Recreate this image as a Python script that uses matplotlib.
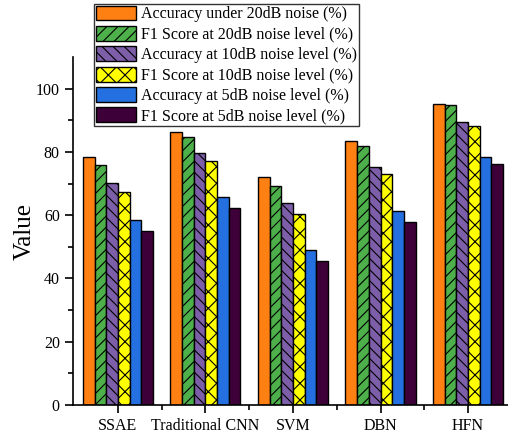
import matplotlib
matplotlib.use("Agg")
import matplotlib.pyplot as plt
import numpy as np

categories = ["SSAE", "Traditional CNN", "SVM", "DBN", "HFN"]
series_labels = [
    "Accuracy under 20dB noise (%)",
    "F1 Score at 20dB noise level (%)",
    "Accuracy at 10dB noise level (%)",
    "F1 Score at 10dB noise level (%)",
    "Accuracy at 5dB noise level (%)",
    "F1 Score at 5dB noise level (%)",
]
acc_20db = [78.5, 86.3, 72.0, 83.6, 95.2]
f1_20db = [75.9, 84.7, 69.3, 81.9, 94.7]
acc_10db = [70.1, 79.5, 63.8, 75.1, 89.6]
f1_10db = [67.2, 77.0, 60.5, 73.1, 88.3]
acc_5db = [58.5, 65.7, 49.0, 61.3, 78.3]
f1_5db = [55.1, 62.2, 45.6, 58.0, 76.1]
series_values = [acc_20db, f1_20db, acc_10db, f1_10db, acc_5db, f1_5db]

colors = ["#FF8012", "#4DB04A", "#7D5EA8", "#FFFF00", "#2470E0", "#3D0038"]
hatches = [None, "///", "\\\\\\", "xx", None, None]

plt.rcParams["font.family"] = ["Liberation Serif", "DejaVu Serif"]
plt.rcParams["hatch.linewidth"] = 0.8

fig = plt.figure(figsize=(5.08, 4.34), dpi=100)
ax = fig.add_axes([73 / 508, 29 / 434, 1 - 73 / 508, (405 - 57) / 434])

x = np.arange(1, len(categories) + 1)
n = len(series_values)
w = 0.8 / n
for i, (vals, lab, c, h) in enumerate(zip(series_values, series_labels, colors, hatches)):
    ax.bar(x + (i - (n - 1) / 2) * w, vals, width=w, color=c, edgecolor="black",
           linewidth=1.0, hatch=h, label=lab, zorder=2)

ax.set_xlim(0.486, 5.457)
ax.set_ylim(0, 110)
ax.set_yticks([0, 20, 40, 60, 80, 100])
ax.set_yticks([10, 30, 50, 70, 90], minor=True)
ax.set_xticks(x)
ax.set_xticklabels(categories)
ax.set_xticks(x[:-1] + 0.5, minor=True)

for s in ["top", "right"]:
    ax.spines[s].set_visible(False)
for s in ["left", "bottom"]:
    ax.spines[s].set_linewidth(1.2)

ax.tick_params(axis="both", which="major", direction="out", length=6, width=1.2, labelsize=11.5)
ax.tick_params(axis="both", which="minor", direction="out", length=3.5, width=1.2)
ax.tick_params(axis="x", which="major", pad=3)

ax.set_ylabel("Value", fontsize=18, labelpad=0)

leg = fig.legend(loc="upper left", bbox_to_anchor=(94 / 508, 1 - 4 / 434),
                 fontsize=11.5, frameon=True, fancybox=False, edgecolor="black",
                 handlelength=2.5, handleheight=1.05, handletextpad=0.35,
                 labelspacing=0.22, borderpad=0.1, borderaxespad=0)
leg.get_frame().set_linewidth(1.0)

fig.savefig("out.png", dpi=100)
